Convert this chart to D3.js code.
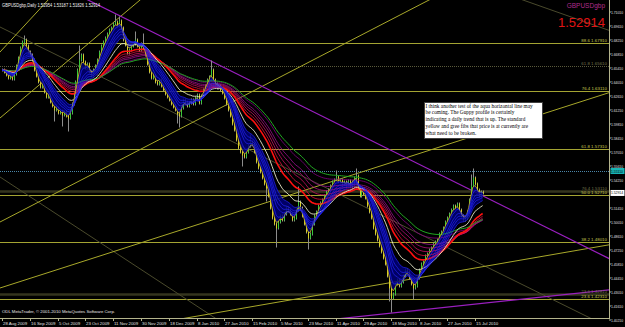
<!DOCTYPE html>
<html>
<head>
<meta charset="utf-8">
<script src="https://cdn.jsdelivr.net/npm/d3@7/dist/d3.min.js"></script>
<style>
html, body { margin: 0; padding: 0; background: #000; overflow: hidden; }
svg { display: block; }
</style>
</head>
<body>
<svg id="chart" width="625" height="327"></svg>
<script>
// ######################## Data #############################################
// Daily closes GBPUSD, 28 Aug 2009 .. late Jul 2010
const closes = [
  1.6521, 1.6501, 1.6471, 1.6441, 1.6461, 1.6431, 1.6481, 1.6561, 1.6641, 1.6741,
  1.6801, 1.6821, 1.6761, 1.6701, 1.6671, 1.6621, 1.6521, 1.6461, 1.6401, 1.6351,
  1.6371, 1.6301, 1.6251, 1.6271, 1.6201, 1.6161, 1.6121, 1.6141, 1.6091, 1.6111,
  1.6071, 1.6101, 1.6061, 1.6041, 1.6091, 1.6181, 1.6281, 1.6401, 1.6521, 1.6621,
  1.6671, 1.6601, 1.6541, 1.6581, 1.6501, 1.6461, 1.6521, 1.6561, 1.6621, 1.6701,
  1.6761, 1.6801, 1.6841, 1.6881, 1.6921, 1.6941, 1.6981, 1.7001, 1.6961, 1.7011,
  1.6941, 1.6821, 1.6771, 1.6691, 1.6721, 1.6761, 1.6781, 1.6821, 1.6761, 1.6721,
  1.6781, 1.6741, 1.6671, 1.6581, 1.6501, 1.6441, 1.6461, 1.6401, 1.6381, 1.6421,
  1.6361, 1.6321, 1.6281, 1.6251, 1.6221, 1.6181, 1.6151, 1.6121, 1.6081, 1.6061,
  1.6141, 1.6221, 1.6201, 1.6161, 1.6191, 1.6221, 1.6181, 1.6241, 1.6271, 1.6191,
  1.6261, 1.6321, 1.6361, 1.6421, 1.6451, 1.6521, 1.6421, 1.6381, 1.6341, 1.6361,
  1.6321, 1.6291, 1.6241, 1.6181, 1.6121, 1.6061, 1.5981, 1.5921, 1.5821, 1.5741,
  1.5701, 1.5671, 1.5651, 1.5701, 1.5761, 1.5801, 1.5781, 1.5701, 1.5601, 1.5541,
  1.5501, 1.5441, 1.5381, 1.5341, 1.5261, 1.5141, 1.5041, 1.4981, 1.4941, 1.5001,
  1.5061, 1.5021, 1.5081, 1.5141, 1.5121, 1.5081, 1.5021, 1.5041, 1.5121, 1.5201,
  1.5141, 1.5061, 1.4981, 1.4901, 1.4841, 1.4881, 1.4981, 1.5061, 1.5101, 1.5161,
  1.5191, 1.5221, 1.5261, 1.5301, 1.5321, 1.5361, 1.5401, 1.5421, 1.5451, 1.5401,
  1.5421, 1.5381, 1.5401, 1.5381, 1.5411, 1.5361, 1.5401, 1.5441, 1.5461, 1.5341,
  1.5261, 1.5301, 1.5281, 1.5241, 1.5161, 1.5101, 1.5041, 1.4941, 1.4881, 1.4821,
  1.4761, 1.4701, 1.4641, 1.4581, 1.4461, 1.4341, 1.4241, 1.4281, 1.4381, 1.4421,
  1.4361, 1.4401, 1.4461, 1.4521, 1.4501, 1.4441, 1.4381, 1.4341, 1.4361, 1.4441,
  1.4521, 1.4581, 1.4601, 1.4661, 1.4681, 1.4721, 1.4741, 1.4781, 1.4801, 1.4821,
  1.4881, 1.4901, 1.4941, 1.5001, 1.5041, 1.5081, 1.5121, 1.5161, 1.5141, 1.5181,
  1.5121, 1.5061, 1.5021, 1.5041, 1.5101, 1.5221, 1.5361, 1.5441, 1.5381, 1.5321,
  1.5261, 1.5301, 1.5291
];

// wicks that stick out of the bodies: [bar index, price]
const wickHighs = [
  [11, 1.6851], [39, 1.6751], [57, 1.7061], [59, 1.7041], [67, 1.6891], [71, 1.6871],
  [105, 1.6601], [112, 1.6301], [125, 1.5861], [149, 1.5341], [168, 1.5501],
  [178, 1.5521], [236, 1.5461], [237, 1.5521]
];
const wickLows = [
  [26, 1.6021], [30, 1.5971], [33, 1.5921], [88, 1.6001], [89, 1.5961], [121, 1.5571],
  [133, 1.5221], [138, 1.4761], [154, 1.4741], [195, 1.4221], [196, 1.4111], [207, 1.4241]
];

// Guppy multiple moving averages
const shortPeriods = [3, 5, 8, 10, 12, 15];
const longPeriods = [30, 35, 40, 45, 50, 60];
const longColors = ["#ff1010", "#e0103c", "#c81060", "#b01078", "#98108c", "#800080"];

// time axis
const dateLabels = ["28 Aug 2009", "16 Sep 2009", "5 Oct 2009", "23 Oct 2009", "11 Nov 2009",
  "30 Nov 2009", "18 Dec 2009", "8 Jan 2010", "27 Jan 2010", "15 Feb 2010", "5 Mar 2010",
  "23 Mar 2010", "11 Apr 2010", "29 Apr 2010", "18 May 2010", "8 Jun 2010", "27 Jun 2010", "15 Jul 2010"];
const dateIndex = [0, 14, 28, 42, 56, 70, 84, 98, 112, 126, 140, 154, 168, 182, 196, 210, 224, 238];

// price axis
const priceTicks = [1.71010, 1.69610, 1.68210, 1.66810, 1.65410, 1.64010, 1.62610, 1.61210,
  1.59810, 1.58410, 1.57010, 1.55610, 1.54210, 1.51410, 1.50010, 1.48610, 1.47210,
  1.45810, 1.44410, 1.43010, 1.41610, 1.40210];
const lastPrice = 1.52914;
const aquaPrice = 1.55110;

// fibonacci levels (bright yellow set and dim set)
const fibLevels = ["23.6", "38.2", "50.0", "61.8", "76.4", "88.6"];
const fibPrices = [1.4231, 1.4801, 1.5271, 1.5731, 1.6311, 1.6791];
const dimFibLevels = ["23.6", "76.4", "61.8"];
const dimFibPrices = [1.4281, 1.5311, 1.6561];

// trend lines: [bar1, price1, bar2, price2]
const yellowLines = [
  [-1, 1.6701, 23.2, 1.7221],
  [-1, 1.6041, 69.5, 1.7221],
  [-1, 1.5001, 215.0, 1.7221],
  [-1, 1.4341, 305.1, 1.6291],
  [69.5, 1.3961, 305.1, 1.4771]
];
const purpleLines = [
  [43.3, 1.7221, 305.1, 1.4641],
  [163.6, 1.4021, 305.1, 1.4321]
];
const darkLines = [
  [-1, 1.6951, 296.1, 1.4041],
  [-1, 1.5451, 108.8, 1.4021],
  [262.3, 1.7221, 305.1, 1.6921]
];

const noteLines = [
  "I think another test of the aqua horizontal line may",
  "be coming. The Guppy profile is certainly",
  "indicating a daily trend that is up. The standard",
  "yellow and gree fibs that price is at currently are",
  "what need to be broken."
];

// ######################## Chart #############################################
const plotW = 609, plotH = 318;
const svg = d3.select("#chart");
svg.append("rect").attr("width", 625).attr("height", 327).attr("fill", "#000");

const x = d3.scaleLinear().domain([0, 238]).range([2, 474.7]);
const y = d3.scaleLinear().domain([1.4061, 1.7221]).range([316, 0]);

svg.append("clipPath").attr("id", "plotclip")
  .append("rect").attr("width", plotW).attr("height", plotH);

const plot = svg.append("g").attr("clip-path", "url(#plotclip)");

function ema(values, n) {
  const k = 2 / (n + 1);
  let e = values[0];
  return values.map(v => (e = v * k + e * (1 - k)));
}

// horizontal lines
fibPrices.forEach(p => {
  plot.append("line").attr("x1", 0).attr("x2", plotW)
    .attr("y1", Math.round(y(p)) + 0.5).attr("y2", Math.round(y(p)) + 0.5)
    .attr("stroke", "#a4a432").attr("stroke-width", 1);
});
dimFibPrices.forEach((p, i) => {
  plot.append("line").attr("x1", 0).attr("x2", plotW)
    .attr("y1", Math.round(y(p)) + 0.5).attr("y2", Math.round(y(p)) + 0.5)
    .attr("stroke", i == 2 ? "#5a5a3c" : "#34341e")
    .attr("stroke-width", i == 2 ? 1 : 2.5)
    .attr("stroke-dasharray", i == 2 ? "1,1" : null);
});
plot.append("line").attr("x1", 0).attr("x2", plotW)
  .attr("y1", Math.round(y(aquaPrice)) + 0.5).attr("y2", Math.round(y(aquaPrice)) + 0.5)
  .attr("stroke", "#4a86a8").attr("stroke-dasharray", "1,1");

// trend lines, extended across the whole plot
function trend(d, color, width) {
  const [b1, p1, b2, p2] = d;
  const x1 = x(b1), y1 = y(p1), x2 = x(b2), y2 = y(p2);
  const s = (y2 - y1) / (x2 - x1);
  plot.append("line")
    .attr("x1", -20).attr("y1", y1 + s * (-20 - x1))
    .attr("x2", 700).attr("y2", y1 + s * (700 - x1))
    .attr("stroke", color).attr("stroke-width", width);
}
darkLines.forEach(d => trend(d, "#4a4a2c", 1));
yellowLines.forEach(d => trend(d, "#a8a82a", 1));
purpleLines.forEach(d => trend(d, "#9a1fc0", 1.2));

// price bars
const bars = plot.append("g");
closes.forEach((c, i) => {
  const o = i ? closes[i - 1] : c;
  const hiW = wickHighs.find(w => w[0] == i);
  const loW = wickLows.find(w => w[0] == i);
  const hi = Math.max(o, c, hiW ? hiW[1] : 0);
  const lo = Math.min(o, c, loW ? loW[1] : 9);
  const xx = Math.round(x(i)) + 0.5;
  bars.append("line").attr("x1", xx).attr("x2", xx)
    .attr("y1", y(hi) - 1.5).attr("y2", y(lo) + 1.5)
    .attr("stroke", "#8c8c8c").attr("stroke-width", 1);
  bars.append("line").attr("x1", xx).attr("x2", xx)
    .attr("y1", y(Math.max(o, c)) - 0.5).attr("y2", y(Math.min(o, c)) + 0.5)
    .attr("stroke", c >= o ? "#38c838" : "#d8d028").attr("stroke-width", 1);
});

// moving averages
const line = d3.line().x((d, i) => x(i)).y(d => y(d));
const shortE = shortPeriods.map(n => ema(closes, n));
const longE = longPeriods.map(n => ema(closes, n));

plot.append("path")
  .datum(closes.map((c, i) => [shortE[0][i], shortE[shortE.length - 1][i]]))
  .attr("fill", "#000078").attr("opacity", 0.85)
  .attr("d", d3.area().x((d, i) => x(i)).y0(d => y(d[0])).y1(d => y(d[1])));

longE.slice().reverse().forEach((e, j) => {
  plot.append("path").datum(e).attr("fill", "none")
    .attr("stroke", longColors[longColors.length - 1 - j])
    .attr("stroke-width", j == longE.length - 1 ? 1.6 : 0.8)
    .attr("d", line);
});
plot.append("path").datum(ema(closes, 66)).attr("fill", "none")
  .attr("stroke", "#22a822").attr("stroke-width", 1).attr("d", line);
plot.append("path").datum(ema(closes, 20)).attr("fill", "none")
  .attr("stroke", "#e6e6c8").attr("stroke-width", 0.9).attr("d", line);
shortE.forEach((e, j) => {
  plot.append("path").datum(e).attr("fill", "none")
    .attr("stroke", j == 0 ? "#d8c020" : "#2222f0")
    .attr("stroke-width", j == 0 ? 0.8 : 0.7).attr("d", line);
});

// fib labels
const font = "Liberation Sans, Arial, sans-serif";
fibPrices.forEach((p, i) => {
  svg.append("text").attr("x", 607).attr("y", Math.round(y(p)) - 0.8)
    .attr("text-anchor", "end").attr("font-family", font).attr("font-size", 4.4)
    .attr("fill", "#c8c850").text(`${fibLevels[i]}  ${p.toFixed(5)}`);
});
dimFibPrices.forEach((p, i) => {
  svg.append("text").attr("x", 607).attr("y", Math.round(y(p)) - 1.2)
    .attr("text-anchor", "end").attr("font-family", font).attr("font-size", 4.4)
    .attr("fill", "#74744c").text(`${dimFibLevels[i]}  ${p.toFixed(5)}`);
});

// axes
svg.append("line").attr("x1", plotW + 0.5).attr("x2", plotW + 0.5).attr("y1", 0).attr("y2", plotH + 1)
  .attr("stroke", "#b4b48c");
svg.append("line").attr("x1", 0).attr("x2", plotW + 1).attr("y1", plotH + 0.5).attr("y2", plotH + 0.5)
  .attr("stroke", "#b4b48c");

priceTicks.forEach(p => {
  const yy = y(p);
  svg.append("line").attr("x1", plotW).attr("x2", plotW + 2).attr("y1", yy).attr("y2", yy)
    .attr("stroke", "#b4b48c");
  svg.append("text").attr("x", 611).attr("y", yy + 1.5).attr("font-family", font)
    .attr("font-size", 4).attr("fill", "#e0e0e0")
    .attr("textLength", 12).attr("lengthAdjust", "spacingAndGlyphs").text(p.toFixed(5));
});
// aqua and last price boxes
[[aquaPrice, "#18b4b4", "#000"], [lastPrice, "#ffffff", "#000"]].forEach(([p, bg, fg]) => {
  const yy = y(p);
  svg.append("rect").attr("x", 610.5).attr("y", yy - 3).attr("width", 14).attr("height", 6).attr("fill", bg);
  svg.append("text").attr("x", 611).attr("y", yy + 1.5).attr("font-family", font)
    .attr("font-size", 4).attr("fill", fg)
    .attr("textLength", 12).attr("lengthAdjust", "spacingAndGlyphs").text(p.toFixed(5));
});

dateIndex.forEach((b, i) => {
  const xx = Math.round(x(b)) + 0.5;
  svg.append("line").attr("x1", xx).attr("x2", xx).attr("y1", plotH).attr("y2", plotH + 3)
    .attr("stroke", "#b4b48c");
  svg.append("text").attr("x", xx + 0.5).attr("y", 325).attr("font-family", font)
    .attr("font-size", 4.3).attr("fill", "#e0e0e0").text(dateLabels[i]);
});

// texts
svg.append("text").attr("x", 2).attr("y", 6.5).attr("font-family", font).attr("font-size", 4.6)
  .attr("fill", "#f0f0f0").attr("textLength", 98).attr("lengthAdjust", "spacingAndGlyphs")
  .text("GBPUSDgbp,Daily  1.52954 1.53187 1.51826 1.52914");
svg.append("text").attr("x", 2).attr("y", 313).attr("font-family", font).attr("font-size", 4.4)
  .attr("fill", "#e8e8e8").attr("textLength", 113).attr("lengthAdjust", "spacingAndGlyphs")
  .text("ODL MetaTrader, © 2001-2010 MetaQuotes Software Corp.");
svg.append("text").attr("x", 605).attr("y", 7.5).attr("text-anchor", "end").attr("font-family", font)
  .attr("font-size", 6.5).attr("fill", "#b02c8c").text("GBPUSDgbp");
svg.append("text").attr("x", 605).attr("y", 26.5).attr("text-anchor", "end").attr("font-family", font)
  .attr("font-size", 13).attr("fill", "#e01414").text(lastPrice.toFixed(5));

// note box
const note = svg.append("g");
note.append("rect").attr("x", 424.5).attr("y", 102.5).attr("width", 118).attr("height", 36)
  .attr("fill", "#fff").attr("stroke", "#404040");
noteLines.forEach((t, i) => {
  note.append("text").attr("x", 425.5).attr("y", 107.6 + i * 6.8)
    .attr("font-family", "Liberation Serif, Times New Roman, serif").attr("font-size", 5.3)
    .attr("fill", "#000").text(t);
});
</script>
</body>
</html>
